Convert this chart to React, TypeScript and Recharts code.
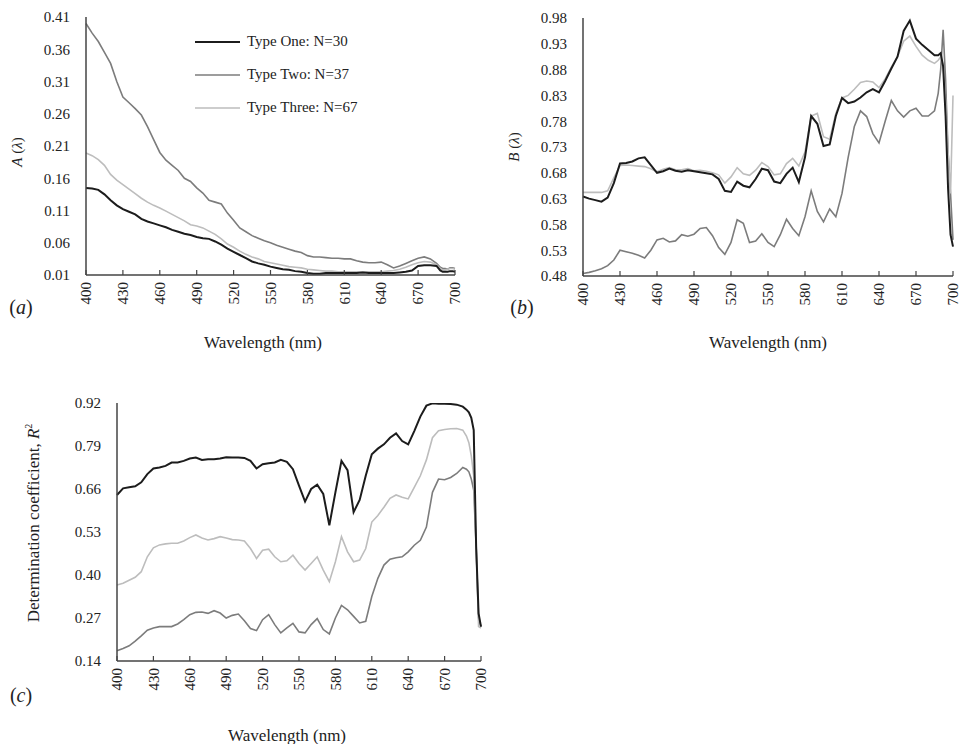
import React from 'react';
import { LineChart, Line, XAxis, YAxis, Legend } from 'recharts';

const FONT = '"Liberation Serif", "Times New Roman", serif';

const wavelengths = [
  400, 405, 410, 415, 420, 425, 430, 435, 440, 445,
  450, 455, 460, 465, 470, 475, 480, 485, 490, 495,
  500, 505, 510, 515, 520, 525, 530, 535, 540, 545,
  550, 555, 560, 565, 570, 575, 580, 585, 590, 595,
  600, 605, 610, 615, 620, 625, 630, 635, 640, 645,
  650, 655, 660, 665, 670, 675, 680, 685, 688,
  690, 692, 694, 696, 698, 700,
];

const xTicks = [400, 430, 460, 490, 520, 550, 580, 610, 640, 670, 700];
const aTicks = [0.01, 0.06, 0.11, 0.16, 0.21, 0.26, 0.31, 0.36, 0.41];
const bTicks = [0.48, 0.53, 0.58, 0.63, 0.68, 0.73, 0.78, 0.83, 0.88, 0.93, 0.98];
const cTicks = [0.14, 0.27, 0.4, 0.53, 0.66, 0.79, 0.92];

const seriesNames = ['Type One: N=30', 'Type Two: N=37', 'Type Three: N=67'];
const seriesColors = ['#1c1c1c', '#7c7c7c', '#bdbdbd'];
const seriesWidths = [2, 1.6, 1.6];

// Panel (a): A(lambda)
const aOne = [
  0.145, 0.144, 0.142, 0.135, 0.126, 0.118, 0.112, 0.108, 0.104, 0.097,
  0.093, 0.09, 0.087, 0.084, 0.08, 0.077, 0.074, 0.072, 0.069, 0.067,
  0.066, 0.062, 0.057, 0.051, 0.046, 0.041, 0.036, 0.031, 0.028, 0.026,
  0.023, 0.021, 0.019, 0.018, 0.016, 0.015, 0.013, 0.012, 0.012, 0.013,
  0.013, 0.013, 0.013, 0.013, 0.013, 0.014, 0.013, 0.013, 0.013, 0.013,
  0.013, 0.014, 0.015, 0.017, 0.024, 0.025, 0.025, 0.024, 0.017,
  0.015, 0.015, 0.015, 0.016, 0.016, 0.015,
];
const aTwo = [
  0.4, 0.385, 0.372, 0.355, 0.338, 0.31, 0.286, 0.277, 0.268, 0.258,
  0.24, 0.22, 0.2, 0.188, 0.18, 0.172, 0.16, 0.155, 0.145, 0.137,
  0.126, 0.123, 0.12, 0.106, 0.095, 0.083, 0.077, 0.071, 0.067, 0.063,
  0.06, 0.056, 0.053, 0.05, 0.047, 0.045, 0.04, 0.038, 0.038, 0.037,
  0.036, 0.036, 0.035, 0.035, 0.032, 0.03, 0.029, 0.029, 0.03, 0.026,
  0.021, 0.024, 0.028, 0.032, 0.036, 0.038, 0.035, 0.028, 0.022,
  0.02, 0.02, 0.019, 0.021, 0.021, 0.02,
];
const aThree = [
  0.199, 0.195, 0.189, 0.18, 0.166, 0.157, 0.15, 0.143, 0.136, 0.129,
  0.123, 0.118, 0.114, 0.109, 0.104, 0.099, 0.094, 0.088, 0.086, 0.083,
  0.078, 0.073, 0.066, 0.058, 0.053, 0.047, 0.042, 0.038, 0.035, 0.031,
  0.029, 0.027, 0.025, 0.023, 0.022, 0.021, 0.019, 0.018, 0.017, 0.016,
  0.016, 0.015, 0.015, 0.015, 0.015, 0.015, 0.015, 0.015, 0.015, 0.016,
  0.017, 0.019, 0.022, 0.026, 0.029, 0.031, 0.03, 0.026, 0.02,
  0.018, 0.018, 0.019, 0.02, 0.02, 0.019,
];

// Panel (b): B(lambda)
const bOne = [
  0.634, 0.63, 0.627, 0.624, 0.632, 0.66, 0.698, 0.699, 0.702, 0.708,
  0.71, 0.695, 0.68, 0.683, 0.688, 0.684, 0.682, 0.685, 0.683, 0.681,
  0.679, 0.677, 0.668, 0.645, 0.643, 0.663, 0.655, 0.652, 0.668, 0.688,
  0.685, 0.663, 0.66, 0.678, 0.69, 0.662, 0.71, 0.79, 0.775, 0.732,
  0.735, 0.79, 0.825, 0.815, 0.818, 0.826, 0.836, 0.842, 0.836, 0.858,
  0.882, 0.905, 0.955, 0.975, 0.94, 0.928, 0.918, 0.908, 0.908,
  0.912, 0.886, 0.79, 0.65, 0.56, 0.537,
];
const bTwo = [
  0.485, 0.487, 0.49, 0.494, 0.5, 0.511, 0.53, 0.527, 0.524, 0.52,
  0.515, 0.53, 0.55, 0.553, 0.546, 0.548, 0.56, 0.557, 0.561, 0.572,
  0.574, 0.558, 0.535, 0.522, 0.545, 0.589, 0.582, 0.545, 0.548, 0.562,
  0.545, 0.537, 0.56, 0.59, 0.572, 0.558, 0.595, 0.645, 0.605, 0.585,
  0.61, 0.595, 0.64, 0.71, 0.77, 0.8, 0.789, 0.756, 0.738, 0.78,
  0.82, 0.8, 0.788, 0.8, 0.805, 0.79, 0.79, 0.8, 0.834,
  0.88, 0.957, 0.86, 0.72, 0.64, 0.55,
];
const bThree = [
  0.642, 0.642, 0.642, 0.642, 0.645, 0.67, 0.694, 0.695, 0.694, 0.693,
  0.692, 0.688, 0.682, 0.687, 0.69, 0.686, 0.686, 0.688, 0.684, 0.685,
  0.683, 0.68, 0.676, 0.66, 0.672, 0.69, 0.678, 0.675, 0.685, 0.7,
  0.692, 0.676, 0.678, 0.698, 0.708, 0.693, 0.72, 0.79, 0.795, 0.75,
  0.745, 0.795, 0.825, 0.83, 0.842, 0.855, 0.858, 0.856, 0.845, 0.862,
  0.885, 0.905, 0.935, 0.945, 0.925, 0.908, 0.898, 0.892, 0.898,
  0.905, 0.89, 0.82, 0.72, 0.64, 0.83,
];

// Panel (c): R^2
const cOne = [
  0.642, 0.662, 0.665, 0.668, 0.68, 0.705, 0.722, 0.725, 0.73, 0.74,
  0.74, 0.745, 0.752, 0.755, 0.748, 0.75, 0.75, 0.752, 0.756, 0.755,
  0.755, 0.754, 0.745, 0.722, 0.735, 0.738, 0.74, 0.748, 0.742, 0.72,
  0.67, 0.622, 0.66, 0.673, 0.645, 0.55, 0.65, 0.745, 0.717, 0.59,
  0.627, 0.7, 0.765, 0.782, 0.795, 0.815, 0.828, 0.805, 0.795, 0.835,
  0.879, 0.912, 0.919, 0.918, 0.918, 0.917, 0.915, 0.909, 0.9,
  0.892, 0.875, 0.838, 0.486, 0.284, 0.244,
];
const cTwo = [
  0.171, 0.178, 0.186, 0.2, 0.216, 0.233, 0.24, 0.244, 0.244, 0.244,
  0.252, 0.265, 0.28, 0.287, 0.288, 0.284, 0.292, 0.285, 0.27, 0.278,
  0.282, 0.262, 0.238, 0.232, 0.265, 0.28, 0.25, 0.225, 0.24, 0.254,
  0.228, 0.225, 0.25, 0.268, 0.235, 0.222, 0.27, 0.308, 0.295, 0.275,
  0.255, 0.26, 0.335, 0.39, 0.43, 0.448, 0.452, 0.455, 0.47, 0.49,
  0.505, 0.545, 0.65, 0.69, 0.688, 0.695, 0.707, 0.725, 0.72,
  0.712, 0.69, 0.657, 0.486, 0.27, 0.244,
];
const cThree = [
  0.37, 0.375, 0.384, 0.393, 0.41, 0.455, 0.482, 0.491, 0.494, 0.496,
  0.496, 0.503, 0.513, 0.521, 0.512, 0.506, 0.51, 0.516, 0.512, 0.507,
  0.506, 0.503, 0.48, 0.45, 0.475, 0.478, 0.455, 0.44, 0.443, 0.46,
  0.435, 0.415, 0.435, 0.455, 0.415, 0.38, 0.44, 0.516, 0.47, 0.44,
  0.445, 0.48, 0.56, 0.58, 0.605, 0.632, 0.642, 0.635, 0.63, 0.665,
  0.7, 0.748, 0.815, 0.836, 0.84, 0.842, 0.843, 0.838, 0.82,
  0.8, 0.76, 0.7, 0.486, 0.244, 0.24,
];

const buildRows = (one: number[], two: number[], three: number[]) =>
  wavelengths.map((wl, i) => ({ wl, one: one[i], two: two[i], three: three[i] }));

const dataA = buildRows(aOne, aTwo, aThree);
const dataB = buildRows(bOne, bTwo, bThree);
const dataC = buildRows(cOne, cTwo, cThree);

const renderXTick = (props: any) => {
  const { x, y, payload } = props;
  return (
    <text
      x={x}
      y={y}
      transform={`rotate(-90 ${x} ${y})`}
      textAnchor="end"
      dy="0.35em"
      fontSize={15}
      fontFamily={FONT}
      fill="#222"
    >
      {payload.value}
    </text>
  );
};

const renderLegend = () => (
  <div style={{ fontFamily: FONT, fontSize: 15, color: '#222' }}>
    {seriesNames.map((n, i) => (
      <div key={n} style={{ display: 'flex', alignItems: 'center', height: 33 }}>
        <svg width={45} height={4} style={{ display: 'block' }}>
          <line x1={0} y1={2} x2={45} y2={2} stroke={seriesColors[i]} strokeWidth={seriesWidths[i]} />
        </svg>
        <span style={{ marginLeft: 7, whiteSpace: 'nowrap' }}>{n}</span>
      </div>
    ))}
  </div>
);

type PanelProps = {
  data: any[];
  yTicks: number[];
  width: number;
  height: number;
  margin: { top: number; right: number; left: number; bottom: number };
  yWidth: number;
  xHeight: number;
  legend?: boolean;
};

const Panel = ({ data, yTicks, width, height, margin, yWidth, xHeight, legend }: PanelProps) => (
  <LineChart width={width} height={height} data={data} margin={margin}>
    <XAxis
      dataKey="wl"
      type="number"
      domain={[400, 700]}
      ticks={xTicks}
      interval={0}
      height={xHeight}
      tickSize={-5}
      tickMargin={12}
      tick={renderXTick}
      axisLine={{ stroke: '#444', strokeWidth: 1.5 }}
      tickLine={{ stroke: '#444', strokeWidth: 1.2 }}
    />
    <YAxis
      type="number"
      domain={[yTicks[0], yTicks[yTicks.length - 1]]}
      ticks={yTicks}
      interval={0}
      width={yWidth}
      allowDataOverflow
      tickLine={false}
      tickMargin={10}
      tickFormatter={(v: number) => v.toFixed(2)}
      tick={{ fontSize: 15, fontFamily: FONT, fill: '#222' }}
      axisLine={{ stroke: '#444', strokeWidth: 1.5 }}
    />
    {legend && (
      <Legend
        layout="vertical"
        align="center"
        verticalAlign="middle"
        content={renderLegend}
        wrapperStyle={{ left: 195, top: 25, width: 200 }}
      />
    )}
    <Line type="linear" dataKey="two" name={seriesNames[1]} stroke={seriesColors[1]} strokeWidth={seriesWidths[1]} dot={false} isAnimationActive={false} />
    <Line type="linear" dataKey="three" name={seriesNames[2]} stroke={seriesColors[2]} strokeWidth={seriesWidths[2]} dot={false} isAnimationActive={false} />
    <Line type="linear" dataKey="one" name={seriesNames[0]} stroke={seriesColors[0]} strokeWidth={seriesWidths[0]} dot={false} isAnimationActive={false} />
  </LineChart>
);

const textStyle: React.CSSProperties = {
  position: 'absolute',
  fontFamily: FONT,
  color: '#222',
  whiteSpace: 'nowrap',
  lineHeight: 1,
};

const Title = ({ x, y, size, rotate, children }: any) => (
  <div
    style={{
      ...textStyle,
      left: x,
      top: y,
      fontSize: size,
      transform: `translate(-50%, -50%)${rotate ? ' rotate(-90deg)' : ''}`,
    }}
  >
    {children}
  </div>
);

export default function App() {
  return (
    <div style={{ position: 'absolute', left: 0, top: 0, width: 962, height: 744, background: '#fff', overflow: 'hidden' }}>
      <div style={{ position: 'absolute', left: 0, top: 0 }}>
        <Panel data={dataA} yTicks={aTicks} width={480} height={360} margin={{ top: 17, right: 25, left: 0, bottom: 0 }} yWidth={86} xHeight={85} legend />
      </div>
      <div style={{ position: 'absolute', left: 480, top: 0 }}>
        <Panel data={dataB} yTicks={bTicks} width={482} height={360} margin={{ top: 18, right: 9, left: 0, bottom: 0 }} yWidth={103} xHeight={84} />
      </div>
      <div style={{ position: 'absolute', left: 0, top: 380 }}>
        <Panel data={dataC} yTicks={cTicks} width={500} height={364} margin={{ top: 23, right: 19, left: 0, bottom: 0 }} yWidth={117} xHeight={83} />
      </div>

      <Title x={17} y={152} size={15} rotate><i>A</i> (<i>λ</i>)</Title>
      <Title x={514} y={147} size={15} rotate><i>B</i> (<i>λ</i>)</Title>
      <Title x={33} y={523} size={17} rotate>
        Determination coefficient, <i>R</i><sup style={{ fontSize: 10 }}>2</sup>
      </Title>

      <Title x={21} y={307} size={20}>(<i>a</i>)</Title>
      <Title x={522} y={307} size={20}>(<i>b</i>)</Title>
      <Title x={21} y={695} size={20}>(<i>c</i>)</Title>

      <Title x={263} y={342} size={17}>Wavelength (nm)</Title>
      <Title x={768} y={342} size={17}>Wavelength (nm)</Title>
      <Title x={287} y={735} size={17}>Wavelength (nm)</Title>
    </div>
  );
}
